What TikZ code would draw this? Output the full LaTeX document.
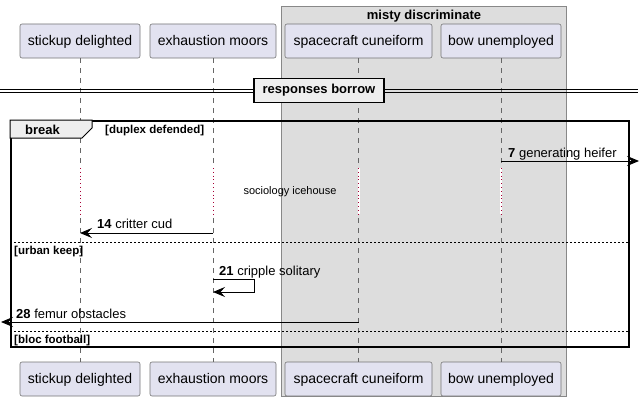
\documentclass[tikz,border=0pt]{standalone}
\usepackage{fontspec}
\setmainfont{Liberation Sans}
\usetikzlibrary{arrows.meta}
\definecolor{partfill}{HTML}{E2E2F0}
\definecolor{partdraw}{HTML}{181818}
\definecolor{grpfill}{HTML}{DDDDDD}
\definecolor{grpdraw}{HTML}{888888}
\definecolor{lblfill}{HTML}{EEEEEE}
\definecolor{delayc}{HTML}{A80036}
\tikzset{
  part/.style={draw=partdraw!60, fill=partfill, rounded corners=2pt, line width=0.6pt,
    minimum height=34pt, inner xsep=0pt, text height=11pt, text depth=2pt,
    font=\fontsize{14}{16}\selectfont, text=black},
  life/.style={draw=gray!80!black, dashed, dash pattern=on 5pt off 5pt, line width=0.6pt},
  delay/.style={draw=delayc, line width=0.8pt, dash pattern=on 0.8pt off 3pt},
  msg/.style={draw=black, line width=0.9pt, -{Stealth[length=12pt,width=10pt,inset=4.5pt]}},
  mlabel/.style={anchor=base west, inner sep=0pt, font=\fontsize{13}{15}\selectfont},
  guard/.style={anchor=base west, inner sep=0pt, font=\bfseries\fontsize{11.5}{13}\selectfont},
  sep/.style={draw=black, line width=0.7pt, dash pattern=on 2pt off 2pt},
}
\begin{document}
\begin{tikzpicture}[x=1pt,y=-1pt]
\useasboundingbox (0,0) rectangle (644,404);
% group box
\node[draw=grpdraw, fill=grpfill, line width=0.8pt, minimum width=285pt, minimum height=390pt, anchor=north west, inner sep=0pt] (grp) at (281,6) {};
\node[font=\bfseries\fontsize{13}{15}\selectfont, anchor=base] (grpt) at (424,19.5) {misty discriminate};
% participants
\node[part, minimum width=120pt] (p1t) at (80,41) {stickup delighted};
\node[part, minimum width=126pt] (p2t) at (213,41) {exhaustion moors};
\node[part, minimum width=147pt] (p3t) at (358.5,41) {spacecraft cuneiform};
\node[part, minimum width=120pt] (p4t) at (501,41) {bow unemployed};
\node[part, minimum width=120pt] (p1b) at (80,379) {stickup delighted};
\node[part, minimum width=126pt] (p2b) at (213,379) {exhaustion moors};
\node[part, minimum width=147pt] (p3b) at (358.5,379) {spacecraft cuneiform};
\node[part, minimum width=120pt] (p4b) at (501,379) {bow unemployed};
% lifelines
\foreach \i in {1,2,3,4} {\draw[life] (p\i t.south) -- (p\i b.north);}
% delay dotted segments
\foreach \i in {1,2,3,4} {
  \coordinate (d\i a) at (p\i t |- 0,168);
  \coordinate (d\i b) at (p\i t |- 0,214);
  \draw[white, line width=2pt] (d\i a) -- (d\i b);
  \draw[delay] (d\i a) -- (d\i b);
}
\node[font=\fontsize{11}{13}\selectfont, anchor=base] (dtext) at (290,194) {sociology icehouse};
% divider
\coordinate (dvl) at (0,90.5);
\coordinate (dvr) at (638,90.5);
\draw[line width=0.8pt] ([yshift=-1.6pt]dvl) -- ([yshift=-1.6pt]dvr);
\draw[line width=0.8pt] ([yshift=1.6pt]dvl) -- ([yshift=1.6pt]dvr);
\node[draw=black, fill=lblfill, line width=1.6pt, minimum width=130pt, minimum height=24pt, inner sep=0pt, font=\bfseries\fontsize{13}{15}\selectfont] (dvt) at (319,90.5) {responses borrow};
% frame
\node[draw=black, line width=1.5pt, minimum width=618pt, minimum height=226pt, anchor=north west, inner sep=0pt] (frm) at (10,120) {};
\draw[line width=1pt, fill=lblfill] (10,120) -- (92,120) -- (92,128) -- (82,138) -- (10,138) -- cycle;
\node[font=\bfseries\fontsize{13}{15}\selectfont, anchor=base west, inner sep=0pt] (brk) at (25,134) {break};
\node[guard] (g1) at (105,133.5) {[duplex defended]};
\draw[sep] (10,242) -- (628,242);
\node[guard] (g2) at (14,254) {[urban keep]};
\draw[sep] (10,331) -- (628,331);
\node[guard] (g3) at (14,343) {[bloc football]};
% message 7
\coordinate (m7a) at (p4t |- 0,161);
\coordinate (m7b) at (639,161);
\draw[msg] (m7a) -- (m7b);
\node[mlabel] (l7) at (508,157) {\textbf{7} generating heifer};
% message 14
\coordinate (m14a) at (p2t |- 0,233);
\coordinate (m14b) at (p1t |- 0,233);
\draw[msg] (m14a) -- (m14b);
\node[mlabel] (l14) at (97,228) {\textbf{14} critter cud};
% message 21
\coordinate (m21a) at (p2t |- 0,279);
\coordinate (m21b) at (p2t |- 0,292);
\draw[msg] (m21a) -- (254,279) -- (254,292) -- (m21b);
\node[mlabel] (l21) at (219,275) {\textbf{21} cripple solitary};
% message 28
\coordinate (m28a) at (p3t |- 0,322);
\coordinate (m28b) at (1,322);
\draw[msg] (m28a) -- (m28b);
\node[mlabel] (l28) at (16,318) {\textbf{28} femur obstacles};
\end{tikzpicture}
\end{document}
